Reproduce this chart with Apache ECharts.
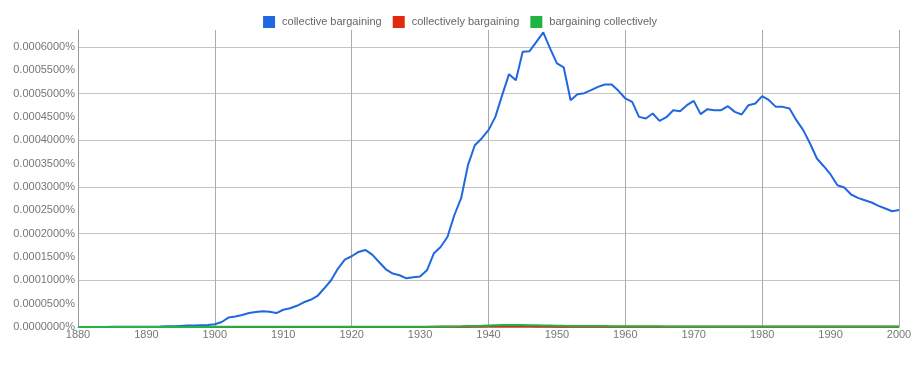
<!DOCTYPE html>
<html>
<head>
<meta charset="utf-8">
<script src="https://cdn.jsdelivr.net/npm/echarts@6/dist/echarts.min.js"></script>
<style>
html,body{margin:0;padding:0;background:#fff;}
#chart{width:920px;height:375px;}
</style>
</head>
<body>
<div id="chart"></div>
<script>
// Years 1880..2000
var years = [];
for (var y = 1880; y <= 2000; y++) years.push(y);

var seriesNames = ['collective bargaining', 'collectively bargaining', 'bargaining collectively'];

// values in percent
var collectiveBargaining = [
  0.0000002,0.0000002,0.0000002,0.0000002,0.0000002,0.0000003,0.0000003,0.0000003,0.0000004,0.0000004,
  0.0000005,0.0000008,0.0000010,0.0000014,0.0000018,0.0000024,0.0000030,0.0000034,0.0000038,0.0000042,
  0.0000058,0.0000107,0.0000201,0.0000223,0.0000257,0.0000298,0.0000319,0.0000336,0.0000326,0.0000298,
  0.0000369,0.0000401,0.0000454,0.0000529,0.0000583,0.0000664,0.0000829,0.0001001,0.0001251,0.0001444,
  0.0001515,0.0001607,0.0001650,0.0001551,0.0001393,0.0001236,0.0001144,0.0001108,0.0001043,0.0001065,
  0.0001080,0.0001215,0.0001573,0.0001714,0.0001928,0.0002393,0.0002758,0.0003465,0.0003893,0.0004037,
  0.0004215,0.0004500,0.0004965,0.0005415,0.0005286,0.0005892,0.0005907,0.0006107,0.0006308,0.0005965,
  0.0005644,0.0005558,0.0004857,0.0004986,0.0005007,0.0005072,0.0005142,0.0005194,0.0005194,0.0005057,
  0.0004894,0.0004821,0.0004500,0.0004465,0.0004573,0.0004414,0.0004493,0.0004643,0.0004622,0.0004750,
  0.0004843,0.0004558,0.0004665,0.0004643,0.0004643,0.0004729,0.0004607,0.0004551,0.0004750,0.0004787,
  0.0004943,0.0004857,0.0004714,0.0004714,0.0004680,0.0004429,0.0004215,0.0003930,0.0003608,0.0003443,
  0.0003266,0.0003036,0.0002987,0.0002837,0.0002764,0.0002715,0.0002666,0.0002593,0.0002537,0.0002479,
  0.0002507
];

var collectivelyBargaining = [
  0.0000001,0.0000001,0.0000001,0.0000001,0.0000001,0.0000001,0.0000001,0.0000001,0.0000001,0.0000001,
  0.0000001,0.0000001,0.0000001,0.0000001,0.0000001,0.0000001,0.0000001,0.0000001,0.0000001,0.0000001,
  0.0000001,0.0000001,0.0000001,0.0000001,0.0000001,0.0000001,0.0000001,0.0000001,0.0000001,0.0000001,
  0.0000001,0.0000001,0.0000001,0.0000001,0.0000001,0.0000001,0.0000002,0.0000002,0.0000002,0.0000002,
  0.0000002,0.0000002,0.0000002,0.0000002,0.0000002,0.0000002,0.0000002,0.0000002,0.0000002,0.0000002,
  0.0000002,0.0000002,0.0000003,0.0000003,0.0000004,0.0000005,0.0000006,0.0000008,0.0000010,0.0000012,
  0.0000014,0.0000016,0.0000018,0.0000019,0.0000018,0.0000016,0.0000014,0.0000012,0.0000010,0.0000009,
  0.0000008,0.0000007,0.0000006,0.0000006,0.0000006,0.0000005,0.0000005,0.0000005,0.0000005,0.0000005,
  0.0000004,0.0000004,0.0000004,0.0000004,0.0000004,0.0000004,0.0000004,0.0000004,0.0000004,0.0000004,
  0.0000004,0.0000004,0.0000004,0.0000004,0.0000004,0.0000004,0.0000004,0.0000004,0.0000004,0.0000004,
  0.0000004,0.0000004,0.0000004,0.0000004,0.0000004,0.0000004,0.0000004,0.0000004,0.0000004,0.0000004,
  0.0000004,0.0000004,0.0000004,0.0000004,0.0000004,0.0000004,0.0000004,0.0000004,0.0000004,0.0000004,
  0.0000004
];

var bargainingCollectively = [
  0.0000002,0.0000002,0.0000002,0.0000002,0.0000002,0.0000002,0.0000002,0.0000002,0.0000002,0.0000002,
  0.0000002,0.0000002,0.0000002,0.0000002,0.0000002,0.0000002,0.0000002,0.0000002,0.0000002,0.0000002,
  0.0000003,0.0000003,0.0000003,0.0000003,0.0000003,0.0000003,0.0000003,0.0000003,0.0000003,0.0000003,
  0.0000004,0.0000004,0.0000004,0.0000004,0.0000004,0.0000004,0.0000004,0.0000005,0.0000005,0.0000005,
  0.0000005,0.0000005,0.0000005,0.0000005,0.0000005,0.0000005,0.0000005,0.0000005,0.0000005,0.0000005,
  0.0000006,0.0000007,0.0000008,0.0000009,0.0000010,0.0000012,0.0000015,0.0000019,0.0000023,0.0000028,
  0.0000034,0.0000039,0.0000043,0.0000045,0.0000044,0.0000041,0.0000038,0.0000035,0.0000032,0.0000030,
  0.0000027,0.0000025,0.0000024,0.0000023,0.0000022,0.0000021,0.0000020,0.0000019,0.0000018,0.0000017,
  0.0000016,0.0000015,0.0000015,0.0000014,0.0000014,0.0000014,0.0000013,0.0000013,0.0000013,0.0000013,
  0.0000013,0.0000012,0.0000012,0.0000012,0.0000012,0.0000012,0.0000012,0.0000012,0.0000012,0.0000012,
  0.0000012,0.0000012,0.0000012,0.0000012,0.0000012,0.0000012,0.0000011,0.0000011,0.0000011,0.0000011,
  0.0000011,0.0000011,0.0000011,0.0000011,0.0000011,0.0000011,0.0000011,0.0000011,0.0000011,0.0000011,
  0.0000011
];

var colors = ['#2168e0', '#e0290f', '#1fb444'];

function pairs(vals) {
  return years.map(function (yr, i) { return [yr, vals[i]]; });
}

var chart = echarts.init(document.getElementById('chart'), null, {renderer: 'canvas'});
var fontFam = '"Liberation Sans", Arial, sans-serif';

chart.setOption({
  animation: false,
  backgroundColor: '#fff',
  color: colors,
  textStyle: {fontFamily: fontFam},
  legend: {
    top: 11,
    left: 'center',
    icon: 'rect',
    itemWidth: 12,
    itemHeight: 12,
    itemGap: 11,
    textStyle: {fontSize: 11, color: '#666', fontFamily: fontFam, padding: [0, 0, 0, 2]},
    data: seriesNames
  },
  grid: {left: 78, right: 21, top: 30, bottom: 48},
  xAxis: [
    {
      type: 'value', min: 1880, max: 2000, interval: 10,
      axisLine: {show: true, lineStyle: {color: '#999', width: 1}},
      axisTick: {show: false},
      splitLine: {show: false},
      axisLabel: {fontSize: 11, color: '#777', fontFamily: fontFam, margin: 2,
        formatter: function (v) { return String(v); }}
    },
    {
      type: 'value', min: 1880, max: 2000, interval: 20, position: 'bottom',
      axisLine: {show: false}, axisTick: {show: false}, axisLabel: {show: false},
      splitLine: {show: true, showMinLine: false, lineStyle: {color: '#aaa', width: 1}}
    }
  ],
  yAxis: [
    {
      type: 'value', min: 0, max: 0.000636, interval: 0.00005,
      axisLine: {show: true, lineStyle: {color: '#999', width: 1}},
      axisTick: {show: false},
      splitLine: {show: false},
      axisLabel: {
        fontSize: 11, color: '#777', fontFamily: fontFam, margin: 3,
        showMaxLabel: false,
        formatter: function (v) { return v.toFixed(7) + '%'; }
      }
    },
    {
      type: 'value', min: 0, max: 0.000636, interval: 0.0001, position: 'left',
      axisLine: {show: false}, axisTick: {show: false}, axisLabel: {show: false},
      splitLine: {show: true, showMinLine: false, showMaxLine: false, lineStyle: {color: '#c4c4c4', width: 1}}
    }
  ],
  series: [
    {name: seriesNames[0], type: 'line', xAxisIndex: 0, yAxisIndex: 0, showSymbol: false, symbol: 'none',
     lineStyle: {width: 2, color: colors[0]}, data: pairs(collectiveBargaining), z: 3},
    {name: seriesNames[1], type: 'line', xAxisIndex: 0, yAxisIndex: 0, showSymbol: false, symbol: 'none',
     lineStyle: {width: 2, color: colors[1]}, data: pairs(collectivelyBargaining), z: 3},
    {name: seriesNames[2], type: 'line', xAxisIndex: 0, yAxisIndex: 0, showSymbol: false, symbol: 'none',
     lineStyle: {width: 2, color: colors[2]}, data: pairs(bargainingCollectively), z: 3}
  ]
});
</script>
</body>
</html>
